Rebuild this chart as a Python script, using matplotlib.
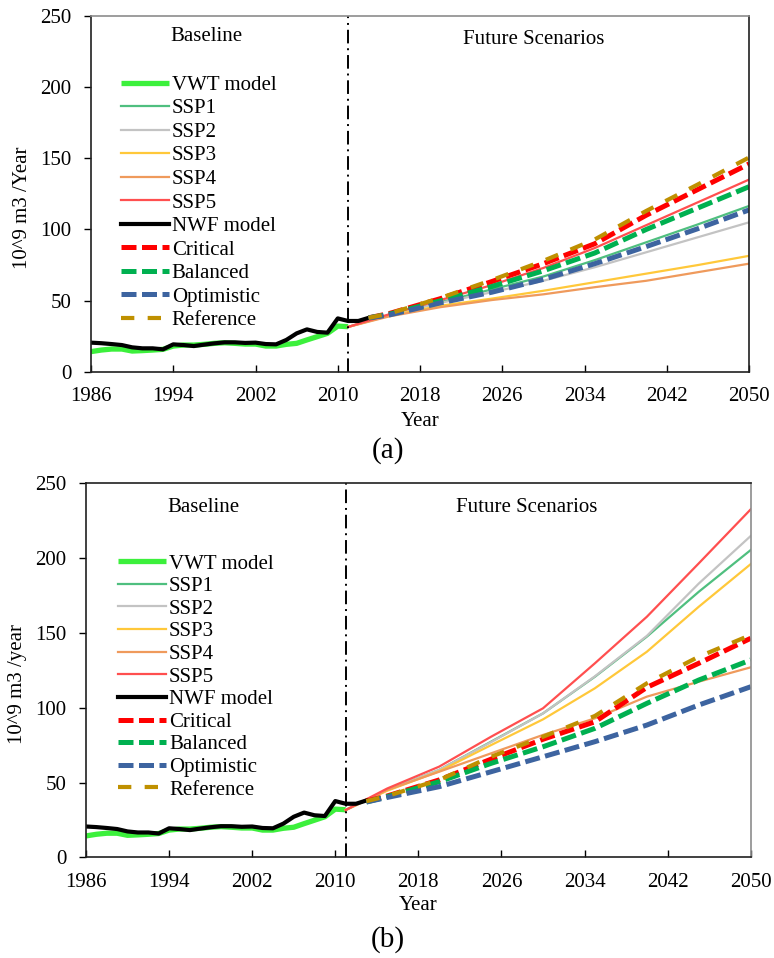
import numpy as np
import matplotlib
matplotlib.use("Agg")
import matplotlib.pyplot as plt

plt.rcParams["font.family"] = ["Liberation Serif", "DejaVu Serif"]
plt.rcParams["font.size"] = 15

# historical series (both panels share them)
base_years = list(range(1986, 2012))
vwt_model = [14.3, 15.4, 16.1, 16.1, 14.7, 15.0, 15.4, 15.9, 18.2, 18.9, 18.9, 19.4, 20.1,
             20.5, 20.1, 19.6, 19.6, 18.2, 18.2, 19.4, 20.1, 22.5, 24.8, 27.1, 32.2, 31.8]
nwf_years = list(range(1986, 2014))
nwf_model = [20.6, 20.2, 19.6, 18.9, 17.3, 16.6, 16.6, 15.9, 19.4, 18.9, 18.2, 19.2, 20.1, 20.8,
             20.8, 20.4, 20.6, 19.6, 19.4, 22.5, 27.1, 29.9, 28.1, 27.6, 37.6, 35.8, 35.8, 38.0]

# projections
ssp_years = [2011, 2015, 2020, 2025, 2030, 2035, 2040, 2045, 2050]
scen_years = [2013, 2015, 2020, 2025, 2030, 2035, 2040, 2045, 2050]

ssp_a = {
    "SSP1": [31.6, 40.0, 49.0, 58.0, 67.0, 78.5, 91.0, 103.5, 116.5],
    "SSP2": [31.6, 40.0, 48.5, 56.0, 64.0, 73.5, 84.0, 94.5, 105.0],
    "SSP3": [31.6, 39.5, 46.5, 51.5, 57.0, 63.0, 69.0, 75.0, 81.5],
    "SSP4": [31.6, 39.0, 45.5, 50.5, 54.5, 59.5, 64.0, 70.0, 76.0],
    "SSP5": [31.6, 40.5, 50.5, 61.0, 73.0, 87.0, 103.0, 119.0, 135.0],
}
scen_a = {
    "Critical": [38.0, 41.0, 51.5, 63.5, 76.0, 90.0, 110.0, 128.0, 146.0],
    "Balanced": [38.0, 40.5, 50.0, 60.0, 71.0, 83.5, 100.0, 115.0, 130.0],
    "Optimistic": [38.0, 40.0, 48.5, 56.0, 65.0, 76.0, 88.0, 100.5, 113.7],
    "Reference": [38.0, 41.0, 52.0, 64.5, 78.0, 93.0, 113.0, 131.5, 150.5],
}

ssp_b = {
    "SSP1": [31.6, 45.0, 58.4, 77.3, 96.2, 120.7, 147.5, 177.5, 205.4],
    "SSP2": [31.6, 45.0, 58.4, 77.0, 96.2, 121.0, 148.0, 183.0, 214.8],
    "SSP3": [31.6, 44.5, 57.5, 75.0, 92.2, 113.0, 137.4, 167.5, 196.0],
    "SSP4": [31.6, 45.0, 57.2, 69.5, 81.8, 92.9, 107.4, 117.4, 127.0],
    "SSP5": [31.6, 46.0, 60.6, 80.6, 99.6, 129.7, 160.8, 196.5, 232.6],
}
scen_b = {
    "Critical": [37.5, 41.0, 51.7, 65.6, 78.9, 90.6, 113.6, 129.7, 146.4],
    "Balanced": [37.0, 40.5, 50.5, 62.8, 73.9, 86.2, 102.9, 118.5, 131.9],
    "Optimistic": [37.0, 40.0, 47.2, 57.2, 67.2, 77.3, 88.4, 101.8, 114.0],
    "Reference": [37.5, 41.0, 51.7, 67.2, 80.6, 94.5, 116.3, 134.1, 148.6],
}

xticks = list(range(1986, 2051, 8))
yticks = [0, 50, 100, 150, 200, 250]

ssp_colors = {"SSP1": "#4fbf7f", "SSP2": "#c3c3c3", "SSP3": "#ffc83a",
              "SSP4": "#ef9a5c", "SSP5": "#ff4f4f"}
scen_style = {
    "Critical": dict(color="#ff0000", lw=3.6, ls=(0, (3.0, 1.1))),
    "Balanced": dict(color="#00b050", lw=3.6, ls=(0, (3.0, 1.1))),
    "Optimistic": dict(color="#3d64a0", lw=3.6, ls=(0, (3.0, 1.1))),
    "Reference": dict(color="#bf9000", lw=3.0, ls=(0, (3.2, 3.2))),
}


def draw_panel(ax, ssp, scen, legend_anchor, row_gap, label_pos, spine_grey):
    ax.plot(base_years, vwt_model, color="#3cf03c", lw=3.8, label="VWT model",
            solid_capstyle="butt")
    for name, vals in ssp.items():
        ax.plot(ssp_years, vals, color=ssp_colors[name], lw=1.6, label=name)
    ax.plot(nwf_years, nwf_model, color="black", lw=3.0, label="NWF model")
    for name, vals in scen.items():
        st = scen_style[name]
        ax.plot(scen_years, vals, color=st["color"], lw=st["lw"], ls=st["ls"], label=name)

    ax.axvline(2011, color="black", lw=1.4, ls=(0, (7, 2.5, 1, 2.5)))

    ax.set_xlim(1986, 2050)
    ax.set_ylim(0, 250)
    ax.set_xticks(xticks)
    ax.set_yticks(yticks)
    ax.tick_params(axis="x", direction="in", length=5, width=1, pad=11)
    ax.tick_params(axis="y", direction="out", length=5, width=1, pad=9)

    for side in ["left", "bottom", "top", "right"]:
        ax.spines[side].set_linewidth(1.2)
        ax.spines[side].set_color("#202020")
    ax.spines[spine_grey].set_color("#8c8c8c")

    ax.text(label_pos[0][0], label_pos[0][1], "Baseline", transform=ax.transAxes,
            ha="center", va="center")
    ax.text(label_pos[1][0], label_pos[1][1], "Future Scenarios", transform=ax.transAxes,
            ha="center", va="center")

    ax.legend(loc="upper left", bbox_to_anchor=legend_anchor, frameon=False,
              borderpad=0, borderaxespad=0, labelspacing=row_gap,
              handlelength=2.3, handletextpad=0.15)


fig = plt.figure(figsize=(7.74, 9.58), dpi=100)
ax_a = fig.add_axes([0.1176, 0.6117, 0.8501, 0.3719])
ax_b = fig.add_axes([0.1111, 0.1051, 0.8588, 0.3904])

draw_panel(ax_a, ssp_a, scen_a, (0.045, 0.833), 0.19,
           [(0.175, 0.943), (0.673, 0.932)], "top")
draw_panel(ax_b, ssp_b, scen_b, (0.048, 0.811), 0.145,
           [(0.176, 0.934), (0.663, 0.934)], "right")

W, H = 774, 958
fig.text(23 / W, 1 - 208 / H, "10^9 m3 /Year", rotation=90, ha="center", va="center")
fig.text(18 / W, 1 - 684 / H, "10^9 m3 /year", rotation=90, ha="center", va="center")
fig.text(420 / W, 1 - 421 / H, "Year", ha="center", va="center")
fig.text(418 / W, 1 - 905 / H, "Year", ha="center", va="center")
fig.text(388 / W, 1 - 451 / H, "(a)", ha="center", va="center", fontsize=21)
fig.text(388 / W, 1 - 940 / H, "(b)", ha="center", va="center", fontsize=21)

fig.savefig("out.png", dpi=100)
